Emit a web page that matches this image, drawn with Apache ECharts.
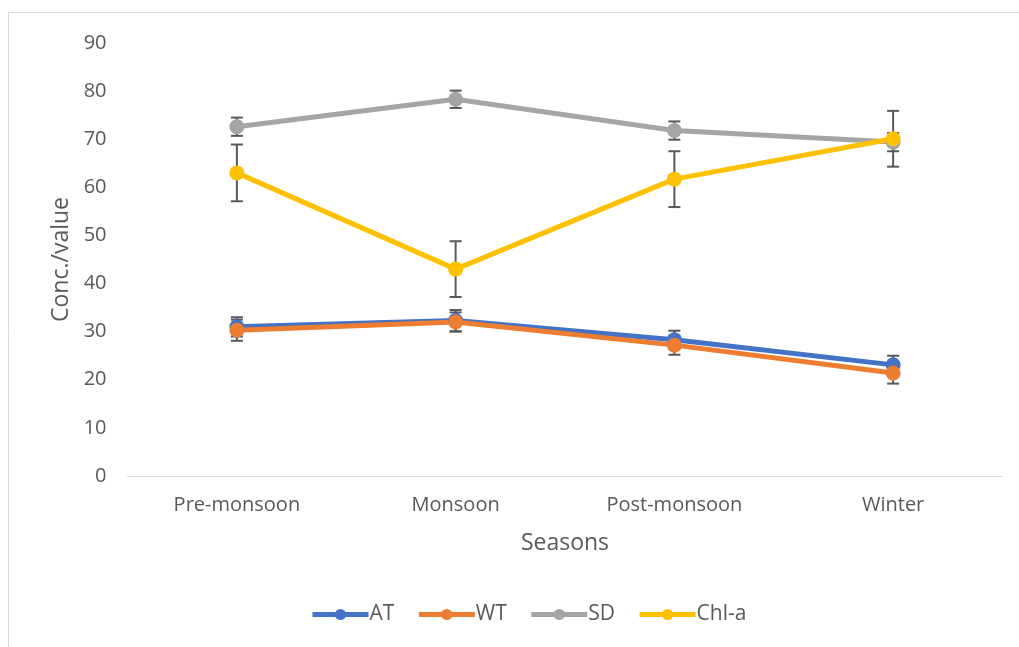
<!DOCTYPE html>
<html><head><meta charset="utf-8">
<script src="https://cdn.jsdelivr.net/npm/echarts@6/dist/echarts.min.js"></script>
<style>html,body{margin:0;padding:0;background:#fff}#c{width:1019px;height:647px}</style>
</head><body><div id="c"></div>
<script>
const categories = ['Pre-monsoon', 'Monsoon', 'Post-monsoon', 'Winter'];
const AT = [31.0, 32.3, 28.3, 23.1];
const WT = [30.3, 32.0, 27.2, 21.4];
const SD = [72.6, 78.3, 71.8, 69.4];
const Chla = [63.0, 43.0, 61.7, 70.1];
const AT_err = [2.0, 2.2, 1.9, 1.9];
const WT_err = [2.2, 2.0, 2.0, 2.2];
const SD_err = [1.9, 1.8, 1.9, 1.9];
const Chla_err = [5.9, 5.8, 5.8, 5.8];
const yTicks = [0, 10, 20, 30, 40, 50, 60, 70, 80, 90];

const FONT = 'Open Sans';
const TXT = '#595959';
const seriesDefs = [
  {name: 'AT', data: AT, err: AT_err, color: '#4472C4'},
  {name: 'WT', data: WT, err: WT_err, color: '#ED7D31'},
  {name: 'SD', data: SD, err: SD_err, color: '#A5A5A5'},
  {name: 'Chl-a', data: Chla, err: Chla_err, color: '#FFC000'}
];

function errSeries(def) {
  const d = def.data.map((v, i) => [i, v - def.err[i], v + def.err[i]]);
  return {
    type: 'custom', name: def.name + ' err', z: 1, silent: true,
    data: d,
    renderItem: function (params, api) {
      const x = api.value(0);
      const lo = api.coord([x, api.value(1)]);
      const hi = api.coord([x, api.value(2)]);
      const hw = 6;
      const st = {stroke: '#595959', lineWidth: 2};
      return {type: 'group', children: [
        {type: 'line', shape: {x1: lo[0], y1: lo[1], x2: hi[0], y2: hi[1]}, style: st},
        {type: 'line', shape: {x1: lo[0]-hw, y1: lo[1], x2: lo[0]+hw, y2: lo[1]}, style: st},
        {type: 'line', shape: {x1: hi[0]-hw, y1: hi[1], x2: hi[0]+hw, y2: hi[1]}, style: st}
      ]};
    }
  };
}

const series = [];
seriesDefs.forEach(d => series.push(errSeries(d)));
seriesDefs.forEach(d => series.push({
  type: 'line', name: d.name, data: d.data, z: 3,
  symbol: 'circle', symbolSize: 15,
  itemStyle: {color: d.color},
  lineStyle: {color: d.color, width: 5},
  emphasis: {disabled: true}
}));

const chart = echarts.init(document.getElementById('c'));
chart.setOption({
  animation: false,
  backgroundColor: '#fff',
  graphic: [{type: 'rect', shape: {x: 8.5, y: 12.5, width: 1030, height: 660},
    style: {fill: 'none', stroke: '#d9d9d9', lineWidth: 1}, z: -1}],
  grid: {left: 127.5, right: 16.5, top: 43, bottom: 171},
  legend: {
    data: seriesDefs.map(d => d.name),
    left: 305, top: 599,
    itemWidth: 56, itemHeight: 14, itemGap: 22,
    lineStyle: {width: 5},
    textStyle: {fontFamily: FONT, fontSize: 21, color: TXT, padding: [0, 0, 0, -4]}
  },
  xAxis: {
    type: 'category', data: categories, boundaryGap: true,
    name: 'Seasons', nameLocation: 'middle', nameGap: 56,
    nameTextStyle: {fontFamily: FONT, fontSize: 23, color: TXT},
    axisLine: {lineStyle: {color: '#d9d9d9', width: 1}},
    axisTick: {show: false},
    axisLabel: {fontFamily: FONT, fontSize: 20, color: TXT, margin: 19}
  },
  yAxis: {
    type: 'value', min: 0, max: 90, interval: 10,
    name: 'Conc./value', nameLocation: 'middle', nameGap: 52,
    nameTextStyle: {fontFamily: FONT, fontSize: 23, color: TXT},
    axisLine: {show: false}, axisTick: {show: false},
    splitLine: {show: false},
    axisLabel: {fontFamily: FONT, fontSize: 20, color: TXT, margin: 21,
      formatter: v => yTicks.includes(v) ? String(v) : ''}
  },
  series: series
});
</script>
</body></html>
